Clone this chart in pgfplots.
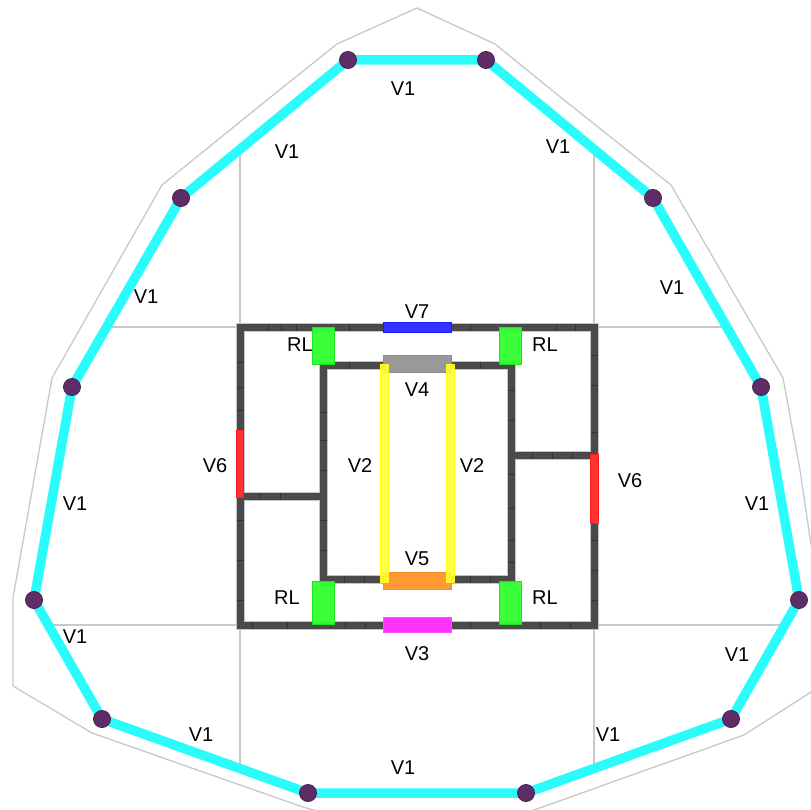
\documentclass[border=0pt]{standalone}
\usepackage{pgfplots}
\pgfplotsset{compat=1.18}
\usepackage{fontspec}
\setmainfont{Liberation Sans}
\definecolor{wall}{HTML}{4A4A4A}
\definecolor{wallE}{HTML}{C4C4C4}
\definecolor{tickD}{HTML}{333333}
\definecolor{gridG}{HTML}{C8C8C8}
\definecolor{cy}{HTML}{2AFBFB}
\definecolor{nodeC}{HTML}{5E2C66}
\definecolor{nodeE}{HTML}{47194F}
\definecolor{nodeL}{HTML}{C9BACB}
\definecolor{cBlue}{HTML}{3333FF}
\definecolor{eBlue}{HTML}{1A1AFF}
\definecolor{cGray}{HTML}{999999}
\definecolor{eGray}{HTML}{8C8C8C}
\definecolor{cOrange}{HTML}{FF9933}
\definecolor{eOrange}{HTML}{FF8C1A}
\definecolor{cMag}{HTML}{FF33FF}
\definecolor{eMag}{HTML}{FF4DFF}
\definecolor{cYel}{HTML}{FFFF33}
\definecolor{eYel}{HTML}{FFFF1A}
\definecolor{cRed}{HTML}{FF3333}
\definecolor{eRed}{HTML}{FF1A1A}
\definecolor{cGreen}{HTML}{33FF33}
\definecolor{eGreen}{HTML}{1AE61A}
\begin{document}
\begin{tikzpicture}[lbl/.style={font=\fontsize{20}{22}\selectfont,text=black,inner sep=0pt,anchor=center}]
\begin{axis}[
  scale only axis, width=811pt, height=810pt,
  xmin=0, xmax=811, ymin=0, ymax=810, y dir=reverse,
  axis lines=none, clip=true, line join=round,
]
% outer outline
\addplot[gridG, line width=1.3pt] coordinates {(417,8) (495,44) (564,100) (671,185) (783,378) (800,470) (811,545)};
\addplot[gridG, line width=1.3pt] coordinates {(417,8) (337,44) (267,100) (162,185) (52,378) (13,598) (13,686) (92,733) (300,806) (320,812)};
\addplot[gridG, line width=1.3pt] coordinates {(534,810) (744,735) (811,692)};
% inner grid
\addplot[gridG, line width=1.5pt] coordinates {(111,327) (722,327)};
\addplot[gridG, line width=1.5pt] coordinates {(240,150) (240,327)};
\addplot[gridG, line width=1.5pt] coordinates {(594,150) (594,327)};
\addplot[gridG, line width=1.5pt] coordinates {(47,625) (787,625)};
\addplot[gridG, line width=1.5pt] coordinates {(240,625) (240,770)};
\addplot[gridG, line width=1.5pt] coordinates {(594,625) (594,770)};
% walls
\addplot[wallE, line width=9pt, line join=miter] coordinates {(240,327) (594,327) (594,625) (240,625)} -- cycle;
\addplot[wallE, line width=9pt, line join=miter] coordinates {(323,365) (511,365) (511,579) (323,579)} -- cycle;
\addplot[wallE, line width=9pt] coordinates {(240,496) (323,496)};
\addplot[wallE, line width=9pt] coordinates {(511,455) (594,455)};
\addplot[wall, line width=7pt, line join=miter] coordinates {(240,327) (594,327) (594,625) (240,625)} -- cycle;
\addplot[wall, line width=7pt, line join=miter] coordinates {(323,365) (511,365) (511,579) (323,579)} -- cycle;
\addplot[wall, line width=7pt] coordinates {(240,496) (323,496)};
\addplot[wall, line width=7pt] coordinates {(511,455) (594,455)};
% wall segment joints
\addplot[only marks, mark=|, mark size=3.5pt, mark options={tickD, line width=0.6pt}] coordinates {
 (268,327) (281,327) (296,327) (349,327) (470,327) (556,327) (575,327)
 (349,365) (480,365) (252,625) (287,625) (345,625) (365,625) (470,625) (540,625) (570,625)
 (344,579) (364,579) (470,579) (490,579)
 (280,496) (260,496) (532,455) (552,455) (572,455)};
\addplot[only marks, mark=-, mark size=3.5pt, mark options={tickD, line width=0.6pt}] coordinates {
 (240,362) (240,387) (240,410) (240,520) (240,560) (240,600)
 (323,412) (323,440) (323,470) (323,520) (323,550)
 (511,390) (511,420) (511,474) (511,508) (511,540) (511,562)
 (594,355) (594,385) (594,432) (594,540) (594,570) (594,600)};
% inner coloured bars
\addplot[fill=cBlue, draw=eBlue, line width=1pt] coordinates {(383,322.5) (451,322.5) (451,332.5) (383,332.5)} -- cycle;
\addplot[fill=cGray, draw=eGray, line width=1pt] coordinates {(383,355.5) (451,355.5) (451,372.5) (383,372.5)} -- cycle;
\addplot[fill=cOrange, draw=eOrange, line width=1pt] coordinates {(383,572.5) (451,572.5) (451,589.5) (383,589.5)} -- cycle;
\addplot[fill=cMag, draw=eMag, line width=1pt] coordinates {(383,617.5) (451,617.5) (451,632.5) (383,632.5)} -- cycle;
\addplot[fill=cYel, draw=eYel, line width=0.6pt, fill opacity=0.9] coordinates {(380,364) (388,364) (388,582) (380,582)} -- cycle;
\addplot[fill=cYel, draw=eYel, line width=0.6pt, fill opacity=0.9] coordinates {(446,364) (454,364) (454,582) (446,582)} -- cycle;
\addplot[fill=cRed, draw=eRed, line width=0.6pt] coordinates {(236.5,430) (243.5,430) (243.5,497) (236.5,497)} -- cycle;
\addplot[fill=cRed, draw=eRed, line width=0.6pt] coordinates {(590,454) (598,454) (598,523) (590,523)} -- cycle;
% RL
\addplot[fill=cGreen, draw=eGreen, line width=0.6pt, fill opacity=0.96] coordinates {(312.5,327.5) (334.5,327.5) (334.5,364.5) (312.5,364.5)} -- cycle;
\addplot[fill=cGreen, draw=eGreen, line width=0.6pt, fill opacity=0.96] coordinates {(499.5,327.5) (521.5,327.5) (521.5,364.5) (499.5,364.5)} -- cycle;
\addplot[fill=cGreen, draw=eGreen, line width=0.6pt, fill opacity=0.96] coordinates {(312.5,581.5) (334.5,581.5) (334.5,624.5) (312.5,624.5)} -- cycle;
\addplot[fill=cGreen, draw=eGreen, line width=0.6pt, fill opacity=0.96] coordinates {(499.5,581.5) (521.5,581.5) (521.5,624.5) (499.5,624.5)} -- cycle;
% ring
\addplot[cy, line width=9.5pt] coordinates {(348,60) (486,60) (653,198) (761,387) (799,600) (731,719) (526,793) (308,793) (102,719) (34,600) (72,387) (181,198) (348,60)};
\addplot[only marks, mark=*, mark size=8.6pt, mark options={fill=nodeC, draw=nodeE, line width=0.6pt}] coordinates {
 (348,60) (486,60) (653,198) (761,387) (799,600) (731,719) (526,793) (308,793) (102,719) (34,600) (72,387) (181,198)};
% thin lines over the nodes
\addplot[nodeL, line width=1pt] coordinates {(341,63) (347,60) (355,59)};
\addplot[nodeL, line width=1pt] coordinates {(479,60) (486,60) (492,64)};
\addplot[nodeL, line width=1pt] coordinates {(648,194) (653,198) (656,205)};
\addplot[nodeL, line width=1pt] coordinates {(758,380) (761,387) (762,394)};
\addplot[nodeL, line width=1pt] coordinates {(796,606) (799,600) (800,593)};
\addplot[nodeL, line width=1pt] coordinates {(726,722) (731,719) (736,714)};
\addplot[nodeL, line width=1pt] coordinates {(519,793) (526,792) (533,792)};
\addplot[nodeL, line width=1pt] coordinates {(301,793) (308,793) (315,793)};
\addplot[nodeL, line width=1pt] coordinates {(106,715) (102,719) (109,722)};
\addplot[nodeL, line width=1pt] coordinates {(34,593) (33,600) (36,606)};
\addplot[nodeL, line width=1pt] coordinates {(70,394) (72,387) (74,380)};
\addplot[nodeL, line width=1pt] coordinates {(178,204) (181,198) (185,193)};
% labels
\node[lbl] at (axis cs:403,89) {V1};
\node[lbl] at (axis cs:287,152) {V1};
\node[lbl] at (axis cs:558,147) {V1};
\node[lbl] at (axis cs:146,297) {V1};
\node[lbl] at (axis cs:672,288) {V1};
\node[lbl] at (axis cs:75,504) {V1};
\node[lbl] at (axis cs:757,504) {V1};
\node[lbl] at (axis cs:75,637) {V1};
\node[lbl] at (axis cs:737,655) {V1};
\node[lbl] at (axis cs:201,735) {V1};
\node[lbl] at (axis cs:608,735) {V1};
\node[lbl] at (axis cs:403,768) {V1};
\node[lbl] at (axis cs:417,312) {V7};
\node[lbl] at (axis cs:417,390) {V4};
\node[lbl] at (axis cs:417,559) {V5};
\node[lbl] at (axis cs:417,654) {V3};
\node[lbl] at (axis cs:360,466) {V2};
\node[lbl] at (axis cs:472,466) {V2};
\node[lbl] at (axis cs:215,466) {V6};
\node[lbl] at (axis cs:630,481) {V6};
\node[lbl] at (axis cs:300,345) {RL};
\node[lbl] at (axis cs:545,345) {RL};
\node[lbl] at (axis cs:287,598) {RL};
\node[lbl] at (axis cs:545,598) {RL};
\end{axis}
\path (current axis.south west) rectangle (current axis.north east);
\end{tikzpicture}
\end{document}
